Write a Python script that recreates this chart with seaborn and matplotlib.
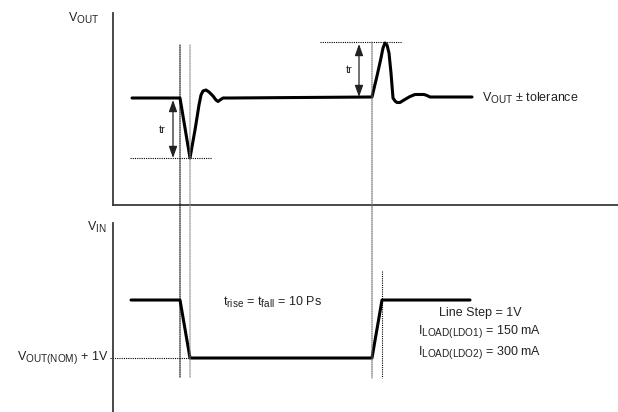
"""Line transient waveform diagram (VOUT response to a VIN line step)."""

import matplotlib
matplotlib.use("Agg")
import matplotlib.pyplot as plt
import matplotlib._mathtext as mathtext_internal
from matplotlib.patches import ConnectionPatch
import seaborn as sns

# time in us, 0 = start of the falling line step
t_step = [0, 10, 192, 202]          # fall start, fall end, rise start, rise end

# VOUT deviation from nominal (arbitrary units)
vout_t = [-48, 0, 10, 15, 19, 21, 23, 26, 29, 33, 36, 38, 40, 43, 50, 120,
          192, 197, 201, 203, 205, 207, 209, 211, 213, 215, 217, 220, 224,
          230, 235, 244, 247, 250, 292]
vout_v = [0, 0, -60, -32, -7, 3, 7, 8, 6, 2, -2, -3.5, -2, 0, 0, 0.5,
          1, 22, 40, 50, 55, 53, 45, 25, 0, -3, -4.5, -4.5, -2,
          1.5, 3.5, 3.5, 2.5, 1, 1]
vout_min = -60
vout_peak = 56

# VIN in volts above VOUT(NOM)
vin_t = [-49, 0, 10, 192, 202, 290]
vin_v = [2, 2, 1, 1, 2, 2]

sns.set_style("white")
plt.rcParams['font.family'] = ['Liberation Sans', 'DejaVu Sans']
plt.rcParams['mathtext.fontset'] = 'custom'
plt.rcParams['mathtext.rm'] = 'Liberation Sans'
# the datasheet uses nearly full-size subscripts
mathtext_internal.SHRINK_FACTOR = 0.8

W, H = 618, 412
fig = plt.figure(figsize=(W / 100, H / 100), dpi=100)
ax_top = fig.add_axes([113 / W, (H - 205) / H, (W - 113) / W, 192 / H])
ax_bot = fig.add_axes([113 / W, 0, (W - 113) / W, (H - 223) / H])

spine_col = '#3a3a3a'
txt_col = '#222222'
fs = 9

for ax in (ax_top, ax_bot):
    ax.set_xlim(-67, 438)
    ax.set_xticks([])
    ax.set_yticks([])
    ax.patch.set_alpha(0)
    for s in ax.spines.values():
        s.set_visible(False)
    ax.spines['left'].set_visible(True)
    ax.spines['left'].set_color(spine_col)
    ax.spines['left'].set_linewidth(1.3)
ax_top.spines['bottom'].set_visible(True)
ax_top.spines['bottom'].set_color(spine_col)
ax_top.spines['bottom'].set_linewidth(1.3)

ax_top.set_ylim(-107, 85)
ax_bot.set_ylim(0.069, 3.328)

# waveforms
sns.lineplot(x=vout_t, y=vout_v, ax=ax_top, color='black', linewidth=2.2,
             estimator=None, sort=False)
sns.lineplot(x=vin_t, y=vin_v, ax=ax_bot, color='black', linewidth=2.2,
             estimator=None, sort=False)

dot = dict(linestyle=(0, (1, 1)), linewidth=0.8)

# vertical guides through both panels
guides = [(t_step[0], 53, 0.67, 'black'),
          (t_step[1], 53, 0.67, '#888888'),
          (t_step[2], vout_peak, 0.655, '#666666')]
for t, ya, yb, c in guides:
    con = ConnectionPatch(xyA=(t, ya), coordsA=ax_top.transData,
                          xyB=(t, yb), coordsB=ax_bot.transData,
                          color=c, **dot)
    fig.add_artist(con)
ax_bot.plot([t_step[3], t_step[3]], [2.5, 0.655], color='black',
            clip_on=False, **dot)

# horizontal guides
ax_top.plot([-50, 32], [vout_min, vout_min], color='black', **dot)
ax_top.plot([140, 222], [vout_peak, vout_peak], color='black', **dot)
ax_bot.plot([-70, t_step[1]], [1, 1], color='black', clip_on=False, **dot)

# tr arrows
arrow = dict(arrowstyle='<|-|>,head_length=0.7,head_width=0.25',
             color='#222222', lw=0.9, shrinkA=0, shrinkB=0)
ax_top.annotate('', xy=(-7, vout_min), xytext=(-7, -2), arrowprops=arrow)
ax_top.annotate('', xy=(179, vout_peak - 2), xytext=(179, 1), arrowprops=arrow)
ax_top.text(-18, -32, 'tr', fontsize=8, color=txt_col, ha='center', va='center')
ax_top.text(169, 28, 'tr', fontsize=8, color=txt_col, ha='center', va='center')

# labels
fig.text(68 / W, 1 - 18 / H, r'V$_\mathregular{OUT}$', fontsize=fs,
         color=txt_col, ha='left', va='center')
fig.text(107 / W, 1 - 227 / H, r'V$_\mathregular{IN}$', fontsize=fs,
         color=txt_col, ha='right', va='center')
ax_top.text(302, 0, r'V$_\mathregular{OUT}$ ± tolerance', fontsize=fs,
            color=txt_col, ha='left', va='center')
ax_bot.text(-72, 1, r'V$_\mathregular{OUT(NOM)}$ + 1V', fontsize=fs,
            color=txt_col, ha='right', va='center', clip_on=False)
ax_bot.text(43, 1.95, r't$_\mathregular{rise}$ = t$_\mathregular{fall}$ = 10 Ps',
            fontsize=fs, color=txt_col, ha='left', va='center')
ax_bot.text(300, 1.78, 'Line Step = 1V', fontsize=fs, color=txt_col,
            ha='center', va='center')
ax_bot.text(300, 1.45, r'I$_\mathregular{LOAD(LDO1)}$ = 150 mA', fontsize=fs,
            color=txt_col, ha='center', va='center')
ax_bot.text(300, 1.09, r'I$_\mathregular{LOAD(LDO2)}$ = 300 mA', fontsize=fs,
            color=txt_col, ha='center', va='center')

fig.savefig('out.png', dpi=100)
